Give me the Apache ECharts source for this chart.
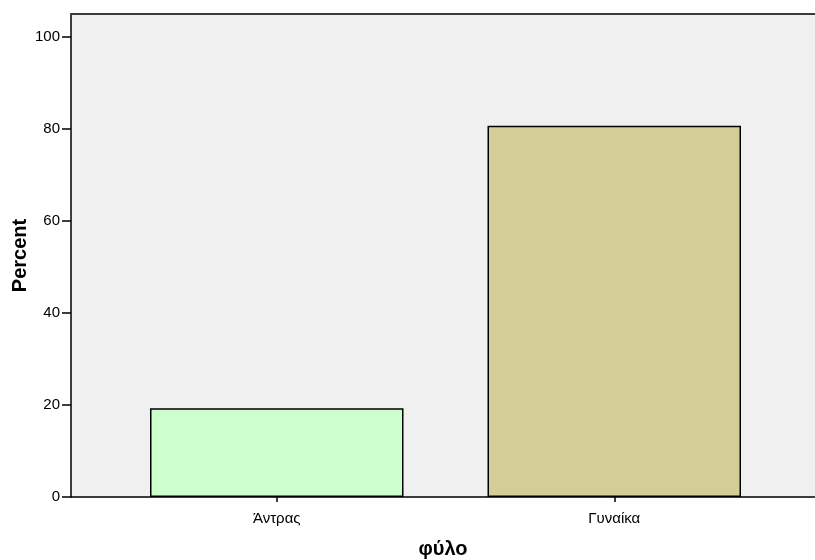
<!DOCTYPE html>
<html>
<head>
<meta charset="utf-8">
<script src="https://cdn.jsdelivr.net/npm/echarts@6/dist/echarts.min.js"></script>
<style>
html,body{margin:0;padding:0;background:#fff;}
#chart{width:815px;height:560px;}
</style>
</head>
<body>
<div id="chart"></div>
<script>
const categories = ['Άντρας', 'Γυναίκα'];
const percentValues = [19.3, 80.7];
const barColors = ['#ccffcc', '#d3ce98'];
const yTicks = [0, 20, 40, 60, 80, 100];
const yMax = 105;
const xTitle = 'φύλο';
const yTitle = 'Percent';

const font = 'Liberation Sans, Arial, sans-serif';
const chart = echarts.init(document.getElementById('chart'), null, {renderer: 'canvas'});

const option = {
  animation: false,
  backgroundColor: '#ffffff',
  grid: [
    {left: 71, right: 0, top: 14, bottom: 63, show: true, backgroundColor: '#f0f0f0', borderWidth: 0,
     containLabel: false, outerBoundsMode: 'none'},
    {left: 108, width: 675, top: 14, bottom: 63, containLabel: false, outerBoundsMode: 'none'}
  ],
  xAxis: [
    {
      type: 'value', gridIndex: 0, min: 0, max: 1, position: 'bottom',
      axisLine: {show: true, lineStyle: {color: '#000', width: 1.5}},
      axisTick: {show: false}, axisLabel: {show: false}, splitLine: {show: false},
      name: xTitle, nameLocation: 'middle', nameGap: 42, nameMoveOverlap: false,
      nameTextStyle: {fontFamily: font, fontSize: 20, fontWeight: 'bold', color: '#000'}
    },
    {
      type: 'value', gridIndex: 0, min: 0, max: 1, position: 'top',
      axisLine: {show: true, lineStyle: {color: '#3a3a3a', width: 2}},
      axisTick: {show: false}, axisLabel: {show: false}, splitLine: {show: false}
    },
    {
      type: 'category', gridIndex: 1, data: categories,
      axisLine: {show: false},
      axisTick: {show: true, alignWithLabel: true, length: 5, lineStyle: {color: '#000', width: 1.5}},
      axisLabel: {fontFamily: font, fontSize: 15, color: '#000', margin: 14},
      splitLine: {show: false}
    }
  ],
  yAxis: [
    {
      type: 'value', gridIndex: 0, min: 0, max: yMax,
      axisLine: {show: true, lineStyle: {color: '#000', width: 1.5}},
      axisTick: {show: true, length: 9, lineStyle: {color: '#000', width: 1.5}, customValues: yTicks},
      axisLabel: {fontFamily: font, fontSize: 15, color: '#000', margin: 11, customValues: yTicks},
      splitLine: {show: false},
      name: yTitle, nameLocation: 'middle', nameGap: 41, nameRotate: 90, nameMoveOverlap: false,
      nameTextStyle: {fontFamily: font, fontSize: 20, fontWeight: 'bold', color: '#000'}
    },
    {
      type: 'value', gridIndex: 1, min: 0, max: yMax, show: false
    }
  ],
  series: [{
    type: 'bar', xAxisIndex: 2, yAxisIndex: 1,
    barWidth: 253.5,
    data: percentValues.map((v, i) => ({value: v, itemStyle: {color: barColors[i]}})),
    itemStyle: {borderColor: '#000', borderWidth: 1.5}
  }]
};
chart.setOption(option);
</script>
</body>
</html>
